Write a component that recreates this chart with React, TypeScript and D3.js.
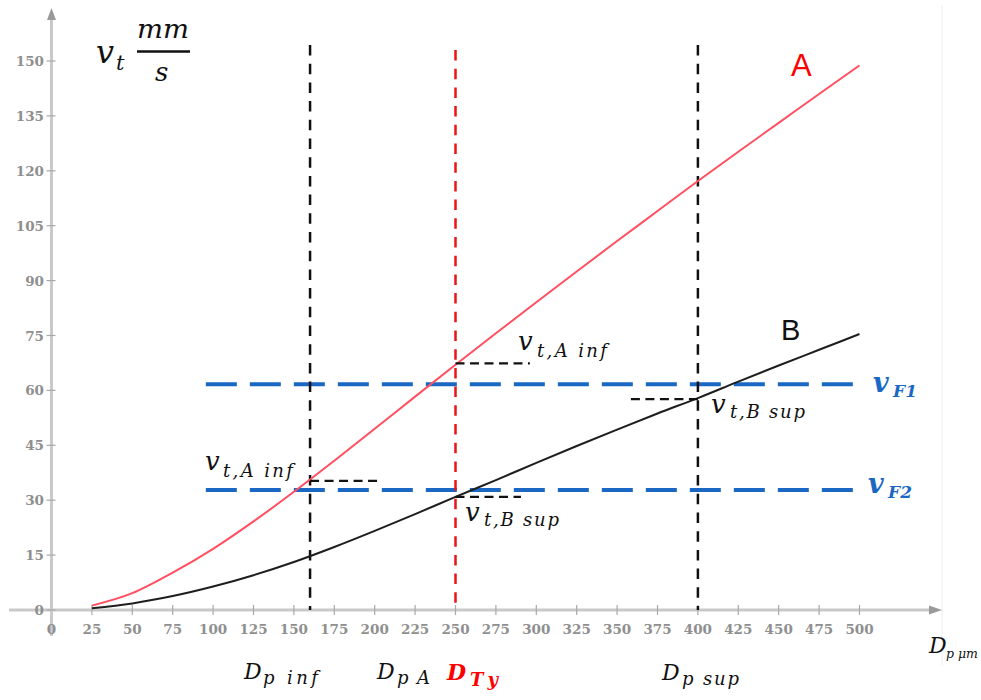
import React from "react";
import * as d3 from "d3";

// particle diameter (µm) and terminal velocity (mm/s) for the two materials
const diameters = [25, 50, 75, 100, 125, 150, 175, 200, 225, 250, 275, 300, 325, 350, 375, 400, 425, 450, 475, 500];
const velocityA = [1.2, 4.6, 10.2, 16.7, 24.2, 32.3, 40.8, 49.5, 58.3, 67.0, 75.6, 84.1, 92.5, 100.8, 109.0, 117.2, 125.2, 133.1, 141.0, 148.8];
const velocityB = [0.5, 1.8, 3.8, 6.4, 9.5, 13.1, 17.2, 21.6, 26.2, 30.9, 35.5, 40.2, 44.8, 49.3, 53.7, 57.9, 62.4, 66.8, 71.1, 75.4];

const xTickValues = [0, 25, 50, 75, 100, 125, 150, 175, 200, 225, 250, 275, 300, 325, 350, 375, 400, 425, 450, 475, 500];
const yTickValues = [0, 15, 30, 45, 60, 75, 90, 105, 120, 135, 150];

// vertical reference diameters: D_p inf, D_Ty, D_p sup
const markDiameters = [160, 250, 400];
const markKinds = ["black", "red", "black"];
// fluid velocities v_F1, v_F2
const fluidVelocities = [61.7, 32.8];
// short read-out segments (from diameter to end diameter, at velocity)
const readoutFrom = [250, 160, 250, 400];
const readoutTo = [296, 203, 290.5, 358];
const readoutVel = [67.4, 35.3, 30.9, 57.6];

const MATH = "'DejaVu Serif', serif";

function MathLabel(props: {
  x: number; y: number; main: string; size: number;
  sx: number; sy: number; sub: string; subSize: number; subLen?: number;
  fill?: string; bold?: boolean;
}) {
  const { x, y, main, size, sx, sy, sub, subSize, subLen, fill = "#111", bold } = props;
  return (
    <g fill={fill} fontFamily={MATH} fontStyle="italic" fontWeight={bold ? "bold" : "normal"}>
      <text x={x} y={y} fontSize={size}>{main}</text>
      <text x={sx} y={sy} fontSize={subSize} textLength={subLen} lengthAdjust={subLen ? "spacing" : undefined}
        style={{ whiteSpace: "pre" }}>{sub}</text>
    </g>
  );
}

export default function App() {
  const W = 981, H = 700;
  const x = d3.scaleLinear().domain([0, 500]).range([51.5, 859.5]);
  const y = d3.scaleLinear().domain([0, 150]).range([610, 61]);

  const line = d3.line<number>().x((_, i) => x(diameters[i])).y((d) => y(d)).curve(d3.curveMonotoneX);

  const axisColor = "#c9c9c9";
  const tickText = "#8f8f8f";
  const blue = "#1a67c4";

  return (
    <svg width={W} height={H} style={{ position: "absolute", left: 0, top: 0, background: "#fff" }}
      xmlns="http://www.w3.org/2000/svg">
      {/* faint frame line at right */}
      <line x1={942} x2={942} y1={5} y2={665} stroke="#edf3f9" strokeWidth={1.2} />

      {/* axes */}
      <line x1={9} x2={932} y1={y(0)} y2={y(0)} stroke={axisColor} strokeWidth={3} />
      <path d={`M${942},${y(0)} L${929},${y(0) - 4.5} L${929},${y(0) + 4.5} Z`} fill="#9a9a9a" />
      <line x1={x(0)} x2={x(0)} y1={636} y2={18} stroke={axisColor} strokeWidth={3} />
      <path d={`M${x(0)},${8} L${x(0) - 4.5},${20} L${x(0) + 4.5},${20} Z`} fill="#9a9a9a" />

      {/* x ticks */}
      {xTickValues.map((t) => (
        <g key={"xt" + t}>
          {t > 0 && <line x1={x(t)} x2={x(t)} y1={y(0) - 5} y2={y(0) + 5} stroke="#a9a9a9" strokeWidth={1.2} />}
          <text x={x(t)} y={634} textAnchor="middle" fontFamily={MATH} fontWeight="bold" fontSize={13.5}
            fill={tickText}>{t}</text>
        </g>
      ))}
      {/* y ticks */}
      {yTickValues.map((t) => (
        <g key={"yt" + t}>
          <line x1={x(0) - 5} x2={x(0) + 4} y1={y(t)} y2={y(t)} stroke="#a9a9a9" strokeWidth={1.2} />
          <text x={44} y={y(t) + 5} textAnchor="end" fontFamily={MATH} fontWeight="bold" fontSize={13.5}
            fill={tickText}>{t}</text>
        </g>
      ))}

      {/* horizontal fluid velocity lines */}
      {fluidVelocities.map((v, i) => (
        <line key={"vf" + i} x1={x(95.5)} x2={x(497)} y1={y(v)} y2={y(v)} stroke={blue} strokeWidth={4}
          strokeDasharray="31 13" />
      ))}

      {/* vertical reference diameters */}
      {markDiameters.map((d, i) => (
        <line key={"md" + i} x1={x(d)} x2={x(d)} y1={markKinds[i] === "red" ? 50 : 45} y2={y(0)}
          stroke={markKinds[i] === "red" ? "#ec1414" : "#111"} strokeWidth={2.5} strokeDasharray="10.5 8.2" />
      ))}

      {/* curves */}
      <path d={line(velocityA) || ""} fill="none" stroke="#ff4f60" strokeWidth={2} />
      <path d={line(velocityB) || ""} fill="none" stroke="#1e1e1e" strokeWidth={2} />

      {/* read-out segments */}
      {readoutFrom.map((d, i) => (
        <line key={"ro" + i} x1={x(d)} x2={x(readoutTo[i])} y1={y(readoutVel[i])} y2={y(readoutVel[i])}
          stroke="#111" strokeWidth={2.3} strokeDasharray="9 5.5" />
      ))}

      {/* y axis title v_t mm/s */}
      <MathLabel x={96} y={63} main="v" size={32} sx={116} sy={70} sub="t" subSize={21} />
      <text x={137} y={38} fontFamily={MATH} fontStyle="italic" fontSize={26} textLength={52}
        lengthAdjust="spacingAndGlyphs" fill="#111">mm</text>
      <line x1={137} x2={190} y1={51.5} y2={51.5} stroke="#111" strokeWidth={2.4} />
      <text x={155} y={81} fontFamily={MATH} fontStyle="italic" fontSize={26} fill="#111">s</text>

      {/* curve names */}
      <text x={791} y={76} fontFamily="'Liberation Sans', Arial, sans-serif" fontSize={31} fill="#ff0000">A</text>
      <text x={781} y={340} fontFamily="'Liberation Sans', Arial, sans-serif" fontSize={29} fill="#111">B</text>

      {/* velocity read-outs */}
      <MathLabel x={518} y={350} main="v" size={26} sx={537} sy={357} sub="t,A inf" subSize={18} subLen={70} />
      <MathLabel x={205} y={470} main="v" size={26} sx={223} sy={477} sub="t,A inf" subSize={18} subLen={70} />
      <MathLabel x={465} y={521} main="v" size={26} sx={484} sy={526} sub="t,B sup" subSize={18} subLen={75} />
      <MathLabel x={711} y={413} main="v" size={26} sx={730} sy={418} sub="t,B sup" subSize={18} subLen={75} />

      {/* fluid velocity labels */}
      <MathLabel x={873} y={392} main="v" size={27} sx={893} sy={397} sub="F1" subSize={17} subLen={24}
        fill={blue} bold />
      <MathLabel x={868} y={493} main="v" size={27} sx={888} sy={498} sub="F2" subSize={17} subLen={24}
        fill={blue} bold />

      {/* diameter labels */}
      <MathLabel x={244} y={679} main="D" size={22} sx={263} sy={684} sub="p inf" subSize={18} subLen={55} />
      <MathLabel x={377} y={679} main="D" size={22} sx={397} sy={684} sub="p A" subSize={18} subLen={33} />
      <MathLabel x={447} y={680} main="D" size={22} sx={470} sy={686} sub="Ty" subSize={18} subLen={28}
        fill="#ff0000" bold />
      <MathLabel x={662} y={680} main="D" size={22} sx={682} sy={685} sub="p sup" subSize={18} subLen={57} />
      <MathLabel x={929} y={653} main="D" size={22} sx={946} sy={658} sub="p μm" subSize={12.5} />
    </svg>
  );
}
